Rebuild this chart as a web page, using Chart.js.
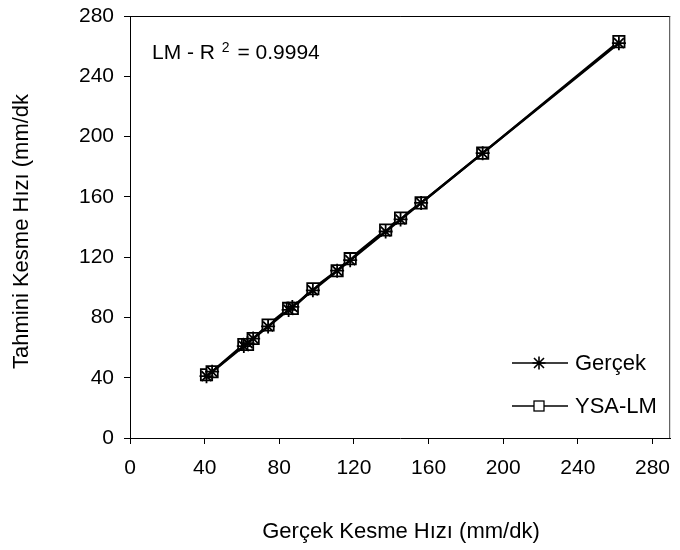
<!DOCTYPE html>
<html>
<head>
<meta charset="utf-8">
<script src="https://cdn.jsdelivr.net/npm/chart.js@4.4.0/dist/chart.umd.min.js"></script>
<style>
    html, body { margin: 0; padding: 0; background: #fff; }
    #wrap { width: 680px; height: 550px; position: relative; }
</style>
</head>
<body>
<div id="wrap"><canvas id="lmChart"></canvas></div>
<script>
const actualSpeed = [41, 44, 61, 63, 66, 74, 85, 87, 98, 111, 118, 137, 145, 156, 189, 262];
const gercekValues = [41, 44, 61, 63, 66, 74, 85, 87, 98, 111, 118, 137, 145, 156, 189, 262];
const lmValues = [42, 44, 62, 62, 66, 75, 86, 86, 99, 111, 119, 138, 146, 156, 189, 263];
const tickValues = [0, 40, 80, 120, 160, 200, 240, 280];
const seriesNames = ['Gerçek', 'YSA-LM'];

const FONT = "'Liberation Sans', Arial, sans-serif";

// x tick labels, titles, R2 note, legend, frame
const extrasPlugin = {
    id: 'extras',
    afterDraw(chart) {
        const ctx = chart.ctx;
        const area = chart.chartArea;
        const xScale = chart.scales.x;
        ctx.save();

        // frame top + right
        ctx.lineWidth = 1;
        ctx.strokeStyle = '#000';
        ctx.beginPath();
        ctx.moveTo(area.left, area.top + 0.5);
        ctx.lineTo(area.right, area.top + 0.5);
        ctx.stroke();
        ctx.strokeStyle = '#404040';
        ctx.beginPath();
        ctx.moveTo(area.right - 0.5, area.top);
        ctx.lineTo(area.right - 0.5, area.bottom);
        ctx.stroke();

        ctx.fillStyle = '#000';
        // x tick labels (drawn here so the last label doesn't shrink the plot)
        ctx.font = '21px ' + FONT;
        ctx.textAlign = 'center';
        ctx.textBaseline = 'middle';
        tickValues.forEach(v => {
            ctx.fillText(String(v), xScale.getPixelForValue(v), 468);
        });

        // x title
        ctx.font = '22px ' + FONT;
        ctx.fillText('Gerçek Kesme Hızı (mm/dk)', 401, 532);

        // y title (cut off at the top like the original)
        ctx.save();
        ctx.translate(22, 369);
        ctx.rotate(-Math.PI / 2);
        ctx.textAlign = 'left';
        ctx.fillText('Tahmini Kesme Hızı (mm/dk', 0, 0);
        ctx.restore();

        // R2 note
        ctx.textAlign = 'left';
        ctx.textBaseline = 'alphabetic';
        ctx.font = '21px ' + FONT;
        let x = 152;
        ctx.fillText('LM - R', x, 59);
        x += ctx.measureText('LM - R ').width + 1;
        ctx.font = '14px ' + FONT;
        ctx.fillText('2', x, 52);
        x += ctx.measureText('2').width + 2;
        ctx.font = '21px ' + FONT;
        ctx.fillText(' = 0.9994', x, 59);

        // legend
        const rows = [363, 406];
        ctx.font = '22px ' + FONT;
        ctx.textBaseline = 'middle';
        rows.forEach((y, i) => {
            ctx.strokeStyle = '#000';
            ctx.lineWidth = 1.5;
            ctx.beginPath();
            ctx.moveTo(512, y);
            ctx.lineTo(568, y);
            ctx.stroke();
            const cx = 539;
            if (i === 0) {
                ctx.lineWidth = 1.6;
                ctx.beginPath();
                ctx.moveTo(cx - 6.5, y); ctx.lineTo(cx + 6.5, y);
                ctx.moveTo(cx, y - 6.5); ctx.lineTo(cx, y + 6.5);
                ctx.moveTo(cx - 5, y - 5); ctx.lineTo(cx + 5, y + 5);
                ctx.moveTo(cx - 5, y + 5); ctx.lineTo(cx + 5, y - 5);
                ctx.stroke();
            } else {
                ctx.fillStyle = '#fff';
                ctx.fillRect(cx - 5, y - 5, 10, 10);
                ctx.lineWidth = 1.3;
                ctx.strokeRect(cx - 5, y - 5, 10, 10);
            }
            ctx.fillStyle = '#000';
            ctx.fillText(seriesNames[i], 575, y + 1);
        });

        ctx.restore();
    }
};

const toPoints = (xs, ys) => xs.map((v, i) => ({ x: v, y: ys[i] }));

const axisCommon = {
    type: 'linear',
    min: 0,
    grid: { drawOnChartArea: false, drawTicks: true, tickLength: 6, color: '#000' },
    border: { color: '#000', width: 1 },
    afterBuildTicks: s => { s.ticks = tickValues.map(v => ({ value: v })); }
};

new Chart(document.getElementById('lmChart'), {
    type: 'scatter',
    data: {
        datasets: [
            {
                label: seriesNames[0],
                data: toPoints(actualSpeed, gercekValues),
                showLine: true,
                borderColor: '#000',
                borderWidth: 2.5,
                pointStyle: 'star',
                pointRadius: 7,
                pointBorderWidth: 1.8,
                pointBorderColor: '#000',
                pointBackgroundColor: '#000'
            },
            {
                label: seriesNames[1],
                data: toPoints(actualSpeed, lmValues),
                showLine: true,
                borderColor: '#000',
                borderWidth: 2.5,
                pointStyle: 'rect',
                pointRadius: 8,
                pointBorderWidth: 1.8,
                pointBorderColor: '#000',
                pointBackgroundColor: '#fff'
            }
        ]
    },
    options: {
        responsive: true,
        maintainAspectRatio: false,
        animation: false,
        events: [],
        layout: { padding: { top: 16, right: 1, left: 0, bottom: 0 } },
        plugins: { legend: { display: false }, tooltip: { enabled: false } },
        scales: {
            x: Object.assign({}, axisCommon, {
                max: 289.5,
                ticks: { display: false },
                afterFit: s => { s.height = 112; }
            }),
            y: Object.assign({}, axisCommon, {
                max: 280,
                ticks: { color: '#000', font: { family: FONT, size: 21 }, padding: 10 },
                afterFit: s => { s.width = 130; s.paddingTop = 0; s.paddingBottom = 0; }
            })
        }
    },
    plugins: [extrasPlugin]
});
</script>
</body>
</html>
